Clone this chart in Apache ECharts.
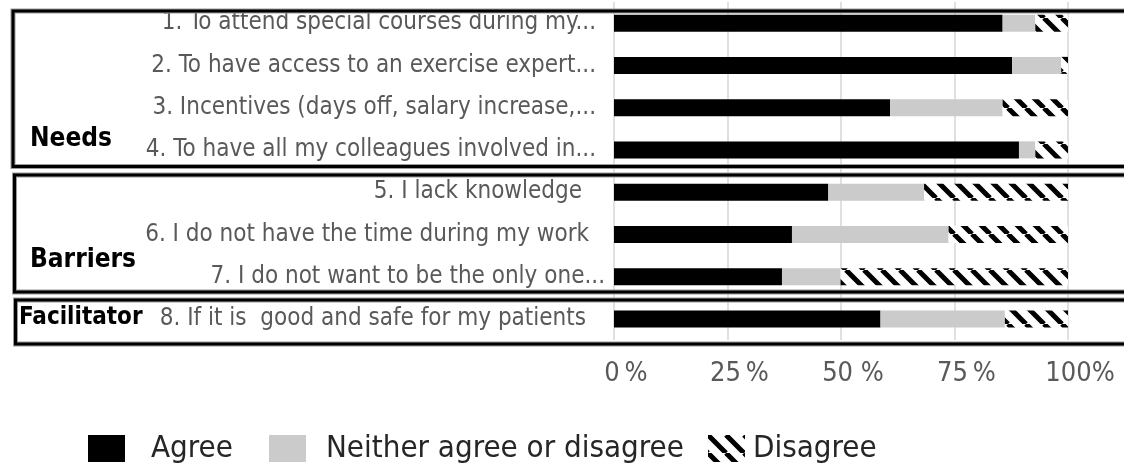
<!DOCTYPE html>
<html>
<head>
<meta charset="utf-8">
<script src="https://cdn.jsdelivr.net/npm/echarts@6/dist/echarts.min.js"></script>
<style>
  html, body { margin: 0; padding: 0; background: #fff; }
  #chart { width: 1124px; height: 463px; }
</style>
</head>
<body>
<div id="chart"></div>
<script>
// Survey statements (top to bottom)
const statements = [
  '1. To attend special courses during my...',
  '2. To have access to an exercise expert...',
  '3. Incentives (days off, salary increase,...',
  '4. To have all my colleagues involved in...',
  '5. I lack knowledge',
  '6. I do not have the time during my work',
  '7. I do not want to be the only one...',
  '8. If it is  good and safe for my patients'
];

// Share of respondents per answer, percent
const agree    = [85.6, 87.7, 60.8, 89.2, 47.2, 39.2, 37.0, 58.7];
const neither  = [7.2, 10.8, 24.8, 3.6, 21.1, 34.5, 12.9, 27.4];
const disagree = [7.2, 1.5, 14.4, 7.2, 31.7, 26.3, 50.1, 13.9];

const seriesNames = ['Agree', 'Neither agree or disagree', 'Disagree'];
const tickLabels = ['0\u2009%', '25\u2009%', '50 %', '75\u2009%', '100%'];
const groupNames = ['Needs', 'Barriers', 'Facilitator'];

const FONT = "'Liberation Sans Narrow', 'DejaVu Sans Condensed', 'Roboto', sans-serif";

// extra right padding for individual statement labels
const labelPad = [10, 10, 10, 10, 24, 17, 1, 20];

// black diagonal hatch used for "Disagree"
function hatchPattern() {
  const s = 18;
  const c = document.createElement('canvas');
  c.width = s; c.height = s;
  const g = c.getContext('2d');
  g.fillStyle = '#fff';
  g.fillRect(0, 0, s, s);
  g.strokeStyle = '#000';
  g.lineWidth = 5;
  g.beginPath();
  [-s, 0, s].forEach(function (dx) {
    g.moveTo(dx, 0);
    g.lineTo(dx + s, s);
  });
  g.stroke();
  return c;
}

const chart = echarts.init(document.getElementById('chart'), null, { renderer: 'canvas' });

function frame(x, y, w, h) {
  return [
    { type: 'rect', silent: true, z: 10,
      shape: { x: x, y: y, width: w, height: h },
      style: { fill: null, stroke: '#9a9a9a', lineWidth: 5 } },
    { type: 'rect', silent: true, z: 11,
      shape: { x: x, y: y, width: w, height: h },
      style: { fill: null, stroke: '#000', lineWidth: 3 } }
  ];
}

function groupText(text, x, y, size) {
  return { type: 'text', silent: true, z: 12, x: x, y: y,
    style: { text: text, fill: '#000', font: 'bold ' + size + 'px ' + FONT,
      textVerticalAlign: 'middle', verticalAlign: 'middle' } };
}

const legendBase = {
  orient: 'horizontal', top: 428, itemWidth: 37, itemHeight: 27,
  icon: 'rect', selectedMode: false,
  textStyle: { fontFamily: FONT, fontSize: 31, color: '#262626' }
};

const option = {
  animation: false,
  backgroundColor: '#fff',
  grid: { left: 614, right: 56, top: 2, bottom: 123, containLabel: false },
  xAxis: {
    type: 'value', min: 0, max: 100, interval: 25,
    axisLine: { show: false }, axisTick: { show: false },
    splitLine: { show: true, lineStyle: { color: '#d6d6d6', width: 1.5 } },
    axisLabel: {
      margin: 20, fontFamily: FONT, fontSize: 27, color: '#595959',
      padding: [0, 0, 0, 24],
      formatter: function (v) { return tickLabels[Math.round(v / 25)]; }
    }
  },
  yAxis: {
    type: 'category', inverse: true,
    data: statements.map(function (s, i) {
      return { value: s, textStyle: { padding: [0, labelPad[i], 0, 0] } };
    }),
    axisLine: { show: false }, axisTick: { show: false },
    axisLabel: { margin: 8, fontFamily: FONT, fontSize: 24, color: '#595959' }
  },
  legend: [
    Object.assign({}, legendBase, { left: 83, data: [seriesNames[0]],
      textStyle: Object.assign({}, legendBase.textStyle, { padding: [0, 0, 0, 21] }) }),
    Object.assign({}, legendBase, { left: 264, data: [seriesNames[1]],
      textStyle: Object.assign({}, legendBase.textStyle, { padding: [0, 0, 0, 15] }) }),
    Object.assign({}, legendBase, { left: 703, data: [seriesNames[2]],
      textStyle: Object.assign({}, legendBase.textStyle, { padding: [0, 0, 0, 3] }) })
  ],
  series: [
    { name: seriesNames[0], type: 'bar', stack: 'all', barWidth: 17, data: agree,
      itemStyle: { color: '#000' } },
    { name: seriesNames[1], type: 'bar', stack: 'all', barWidth: 17, data: neither,
      itemStyle: { color: '#cbcbcb' } },
    { name: seriesNames[2], type: 'bar', stack: 'all', barWidth: 17, data: disagree,
      itemStyle: { color: { image: hatchPattern(), repeat: 'repeat' } } }
  ],
  graphic: [].concat(
    frame(13, 11, 1130, 155.5),
    frame(14.5, 175, 1130, 117),
    frame(15.5, 300, 1130, 44),
    [
      groupText(groupNames[0], 30, 139, 26),
      groupText(groupNames[1], 30, 260, 26),
      groupText(groupNames[2], 19, 318, 24)
    ]
  )
};

chart.setOption(option);
</script>
</body>
</html>
